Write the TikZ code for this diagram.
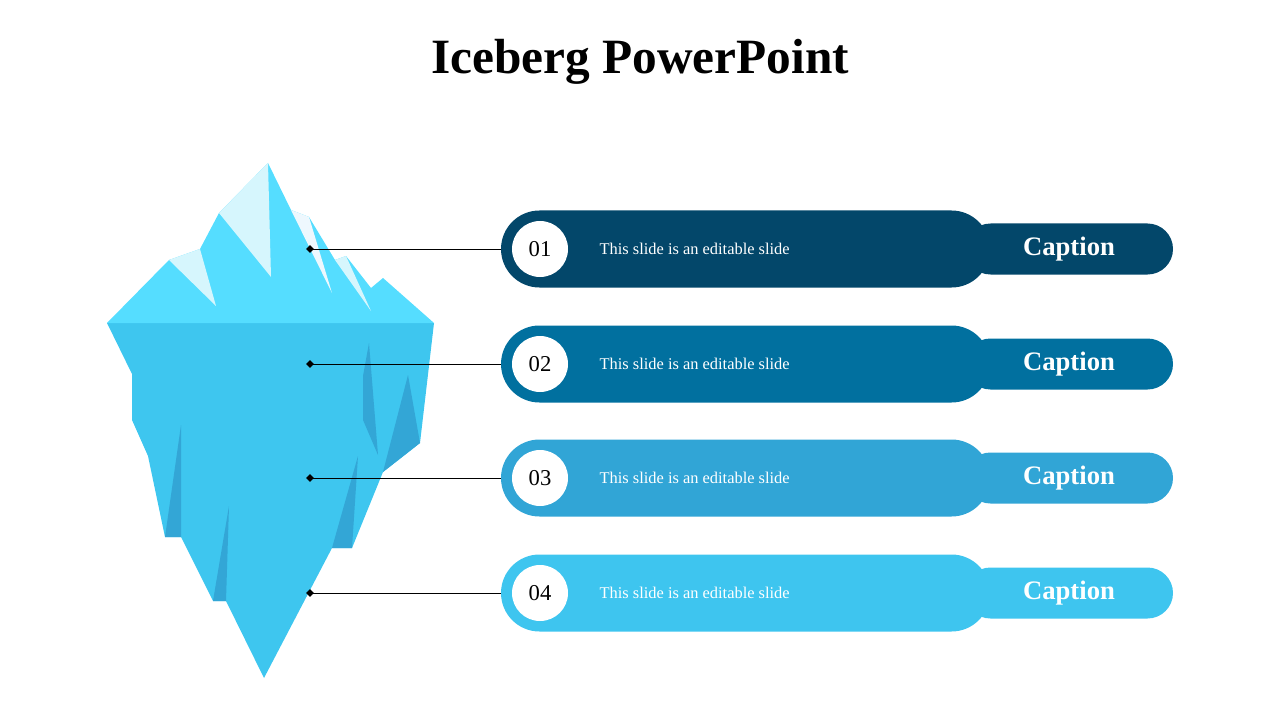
\documentclass[tikz,border=0pt]{standalone}
\usepackage{fontspec}
\setmainfont{Liberation Serif}
\usetikzlibrary{shapes.misc,shapes.geometric}
\definecolor{topice}{HTML}{55DDFF}
\definecolor{lightice}{HTML}{D6F6FD}
\definecolor{whiteice}{HTML}{EEF8FE}
\definecolor{subice}{HTML}{3EC6EF}
\definecolor{darkice}{HTML}{33A6D6}
\definecolor{cA}{HTML}{03476A}
\definecolor{cB}{HTML}{01709F}
\definecolor{cC}{HTML}{31A5D6}
\definecolor{cD}{HTML}{3EC5EF}
\tikzset{
  barbox/.style={rounded rectangle, minimum width=366.75pt, minimum height=57.75pt, inner sep=0pt},
  capbox/.style={rounded rectangle, minimum width=156pt, minimum height=38.25pt, inner sep=0pt, text=white, font=\fontsize{20}{22}\selectfont\bfseries},
  numdot/.style={circle, fill=white, minimum size=42pt, inner sep=0pt, font=\fontsize{17}{19}\selectfont},
  bodytext/.style={text=white, anchor=west, font=\fontsize{12.3}{14}\selectfont},
  pin/.style={diamond, fill=black, minimum size=6pt, inner sep=0pt},
}
\begin{document}
\begin{tikzpicture}[x=0.75pt,y=-0.75pt]
\useasboundingbox (0,0) rectangle (1280,720);
\node[font=\fontsize{37}{40}\selectfont\bfseries] (title) at (640,62) {Iceberg PowerPoint};
% underwater
\fill[subice] (107,323) -- (434,323) -- (420,443) -- (383,472) -- (352,548) -- (332,548) -- (264,678) -- (226,601) -- (213,601) -- (181,537) -- (165,537) -- (148,456) -- (132,420) -- (132,374) -- cycle;
\fill[darkice] (165,537) -- (181,537) -- (181,425) -- cycle;
\fill[darkice] (213,601) -- (226,601) -- (229,506) -- cycle;
\fill[darkice] (332,548) -- (352,548) -- (358,456) -- cycle;
\fill[darkice] (383,472) -- (420,443) -- (408,375) -- cycle;
\fill[darkice] (363,376) -- (369,343) -- (378,455) -- (363,420) -- cycle;
% above water
\fill[topice] (107,323) -- (169,260) -- (200,249) -- (219,213) -- (268,163) -- (291,210) -- (309,217) -- (335,260) -- (346,256) -- (371,288) -- (383,278) -- (434,323) -- cycle;
\fill[lightice] (169,260) -- (200,249) -- (216,306) -- cycle;
\fill[lightice] (219,213) -- (268,163) -- (271,277) -- cycle;
\fill[whiteice] (291,210) -- (309,217) -- (332,293) -- cycle;
\fill[lightice] (335,260) -- (346,256) -- (371,311) -- cycle;
% rows
\foreach \i/\y/\c in {1/249/cA,2/364/cB,3/478/cC,4/593/cD}{
  \node[capbox, fill=\c] (cap\i) at (1069,\y) {Caption};
  \node[barbox, fill=\c] (bar\i) at (745.5,\y) {};
  \node[numdot] (num\i) at (540,\y) {0\i};
  \node[bodytext] (txt\i) at (595,\y) {This slide is an editable slide};
  \node[pin] (pin\i) at (310,\y) {};
  \draw[black, line width=0.6pt] (pin\i.center) -- (bar\i.west);
}
\end{tikzpicture}
\end{document}
